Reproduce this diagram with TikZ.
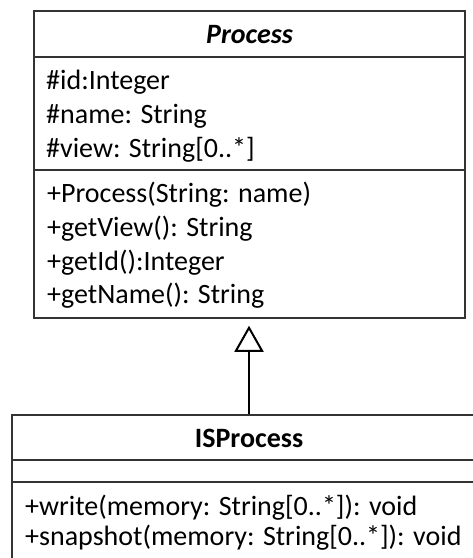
\documentclass[tikz,border=0pt]{standalone}
\usepackage{fontspec}
\setmainfont{Carlito}
\usetikzlibrary{arrows.meta}
\begin{document}
\begin{tikzpicture}[x=1pt,y=-1pt,
  box/.style={draw=black!80, line width=1.5pt, rectangle, inner sep=0pt},
  sep/.style={draw=black!80, line width=1.5pt},
  txt/.style={anchor=base west, inner sep=0pt, font=\fontsize{28}{33}\selectfont},
  ttl/.style={anchor=base, inner sep=0pt, font=\fontsize{28}{33}\selectfont\bfseries},
  gen/.style={line width=2pt, black, -{Triangle[open, length=26pt, width=29pt, line width=2pt]}, shorten >=7pt}]
\useasboundingbox (0,0) rectangle (473,558);
\clip (0,0) rectangle (473,558);
% Process class
\node[box, minimum width=431pt, minimum height=307pt] (proc) at (249.5,164.5) {};
\draw[sep] (proc.west |- 0,57) -- (proc.east |- 0,57);
\draw[sep] (proc.west |- 0,170) -- (proc.east |- 0,170);
\node[ttl, font=\fontsize{28}{33}\selectfont\bfseries\itshape] (proct) at (249.5,43) {Process};
\node[txt] (a1) at (46,89) {\#id:Integer};
\node[txt] (a2) at (46,123) {\#name: String};
\node[txt] (a3) at (46,157) {\#view: String[0..*]};
\node[txt] (m1) at (47,202) {+Process(String: name)};
\node[txt] (m2) at (47,236) {+getView(): String};
\node[txt] (m3) at (47,270) {+getId():Integer};
\node[txt] (m4) at (47,303) {+getName(): String};
% ISProcess class
\node[box, minimum width=474pt, minimum height=185pt] (isp) at (249,507.5) {};
\draw[sep] (isp.west |- 0,460) -- (isp.east |- 0,460);
\draw[sep] (isp.west |- 0,482) -- (isp.east |- 0,482);
\node[ttl] (ispt) at (249,447) {ISProcess};
\node[txt] (w1) at (25,515) {+write(memory: String[0..*]): void};
\node[txt] (w2) at (25,545) {+snapshot(memory: String[0..*]): void};
% generalization
\draw[gen] (isp.north) -- (isp.north |- proc.south);
\end{tikzpicture}
\end{document}
